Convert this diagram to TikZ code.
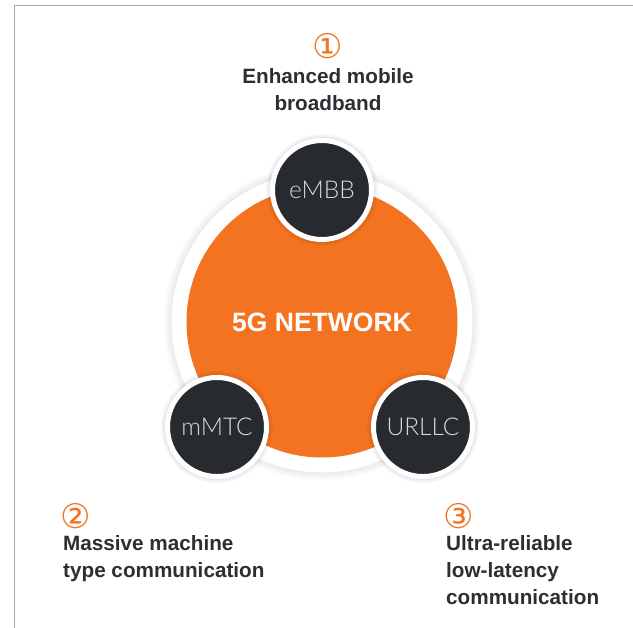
\documentclass[tikz,border=0pt]{standalone}
\usepackage{fontspec}
\setmainfont{Liberation Sans}
\newfontfamily\symf{DejaVu Sans}
\newfontfamily\thinf{Lato Light}
\definecolor{orng}{HTML}{F47321}
\definecolor{darkc}{HTML}{272B30}
\definecolor{txt}{HTML}{2B2E33}
\definecolor{framec}{HTML}{A3ACB3}
\definecolor{hubtxt}{HTML}{D8DADB}
\tikzset{
  hub/.style={circle, fill=darkc, draw=white, line width=5pt, minimum size=99pt, inner sep=0pt,
    text=hubtxt, font=\thinf\fontsize{24.5}{24.5}\selectfont},
  lab/.style={inner sep=0pt, text=txt, font=\bfseries\fontsize{20.7}{27}\selectfont},
  num/.style={inner sep=0pt, text=orng, font=\symf\fontsize{34}{34}\selectfont},
}
\begin{document}
\begin{tikzpicture}[x=1pt,y=-1pt]
\useasboundingbox (0,0) rectangle (633,628);
\fill[white] (0,0) rectangle (633,628);
\draw[framec, line width=1.6pt] (633,5.5) -- (14.5,5.5) -- (14.5,628);
% halo shadow
\foreach \r in {158,156,154,152}
  \fill[black, opacity=0.018] (322,322) circle (\r);
\fill[white] (322,322) circle (150.5);
\node[circle, fill=orng, minimum size=271pt, inner sep=0pt] (core) at (322,322) {};
\node[text=white, font=\bfseries\fontsize{26.5}{26.5}\selectfont] (title) at (core) {5G NETWORK};
% hub shadows
\foreach \p in {(322,190),(217,427),(423,427)}
  \foreach \r in {56,54.5,53}
    \fill[black, opacity=0.03] \p circle (\r);
\node[hub] (embb) at (322,190) {eMBB};
\node[hub] (mmtc) at (217,427) {mMTC};
\node[hub] (urllc) at (423,427) {URLLC};
% labels
\node[num] (n1) at (328,46) {①};
\node[lab, align=center, anchor=north] (l1) at (328,68.4) {Enhanced mobile\\broadband};
\node[num] (n2) at (75.5,516.5) {②};
\node[lab, align=left, anchor=north west] (l2) at (63,535.4) {Massive machine\\type communication};
\node[num] (n3) at (459,516.5) {③};
\node[lab, align=left, anchor=north west] (l3) at (446,535.4) {Ultra-reliable\\low-latency\\communication};
\end{tikzpicture}
\end{document}
